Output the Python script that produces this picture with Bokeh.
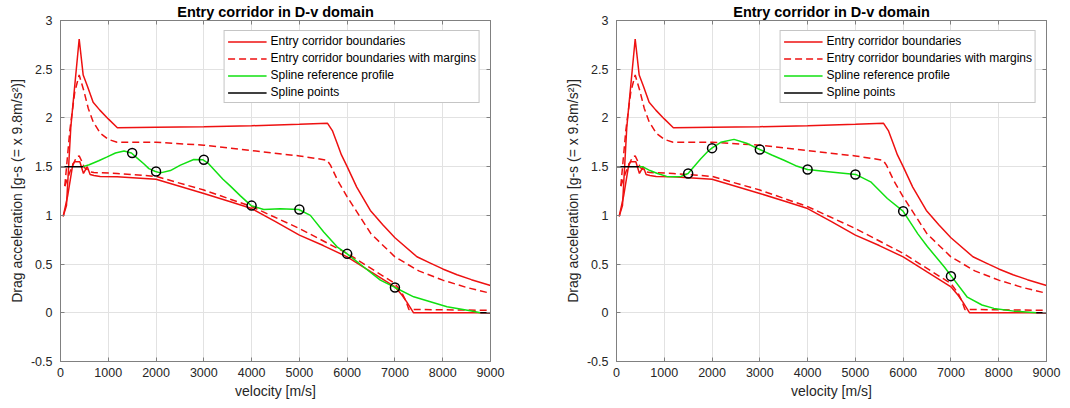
from bokeh.plotting import figure
from bokeh.models import (LinearAxis, FixedTicker, CustomJSTickFormatter, Legend,
                          LegendItem, Range1d)
from bokeh.layouts import row
from bokeh.embed import file_html
from bokeh.resources import INLINE

# ---------------- data ----------------
upper_v = [56, 125, 215, 391, 475, 560, 683, 823, 1000, 1190, 2000, 3000, 4000, 5000,
           5590, 5690, 5790, 5880, 6000, 6200, 6485, 6750, 7000, 7460, 7740, 8000, 8300, 8600, 9000]
upper_D = [0.99, 1.10, 1.90, 2.81, 2.44, 2.33, 2.16, 2.08, 1.99, 1.90, 1.905, 1.91, 1.92, 1.935,
           1.945, 1.87, 1.74, 1.62, 1.50, 1.29, 1.05, 0.90, 0.77, 0.575, 0.51, 0.45, 0.39, 0.34, 0.28]

lower_v = [56, 150, 260, 300, 405, 480, 560, 620, 700, 830, 1185, 2000, 3000, 3556, 4000,
           4500, 5000, 5500, 6000, 6500, 7000, 7150, 7250, 7390, 9000]
lower_D = [0.99, 1.20, 1.53, 1.55, 1.55, 1.43, 1.50, 1.42, 1.41, 1.40, 1.395, 1.37, 1.225, 1.14, 1.07,
           0.935, 0.797, 0.69, 0.574, 0.42, 0.267, 0.18, 0.11, 0.0, 0.0]

upper_m_v = [90, 195, 300, 391, 488, 580, 683, 837, 1000, 1185, 2000, 3000, 4000, 5000,
             5580, 5650, 5800, 6000, 6500, 7000, 7500, 8000, 8500, 9000]
upper_m_D = [1.30, 1.87, 2.27, 2.44, 2.28, 2.10, 1.96, 1.84, 1.78, 1.75, 1.75, 1.72, 1.665, 1.61,
             1.566, 1.515, 1.36, 1.19, 0.81, 0.574, 0.43, 0.335, 0.26, 0.20]

lower_m_v = [90, 200, 335, 391, 450, 500, 560, 628, 700, 1185, 2000, 3000, 4000, 5000,
             6000, 7000, 7150, 7230, 7290, 9000]
lower_m_D = [1.30, 1.45, 1.60, 1.61, 1.55, 1.49, 1.47, 1.446, 1.44, 1.43, 1.40, 1.26, 1.09, 0.865,
             0.61, 0.30, 0.20, 0.12, 0.035, 0.025]

# spline reference profiles
left_spline_v = [475, 600, 800, 977, 1150, 1330, 1485, 1600, 1743, 1850, 1987, 2092, 2300, 2510,
                 2789, 2985, 3100, 3250, 3400, 3556, 3766, 3990, 4254, 4600, 4986, 5230, 5509, 5788,
                 6000, 6346, 6695, 7000, 7392, 7741, 8090, 8577, 8786]
left_spline_D = [1.50, 1.52, 1.56, 1.60, 1.64, 1.66, 1.64, 1.59, 1.53, 1.48, 1.45, 1.436, 1.46, 1.515,
                 1.573, 1.57, 1.53, 1.45, 1.37, 1.30, 1.20, 1.10, 1.06, 1.068, 1.06, 1.00, 0.83, 0.677,
                 0.605, 0.47, 0.335, 0.26, 0.164, 0.113, 0.062, 0.02, 0.0]

right_spline_v = [475, 544, 700, 858, 1050, 1205, 1350, 1498, 1620, 1764, 1900, 1995, 2182, 2460,
                  2740, 2998, 3250, 3506, 3750, 3996, 4483, 5006, 5320, 5669, 5997, 6307, 6506,
                  6862, 7008, 7343, 7650, 7900, 8320, 8786]
right_spline_D = [1.50, 1.50, 1.46, 1.43, 1.40, 1.395, 1.40, 1.43, 1.50, 1.58, 1.65, 1.69, 1.75, 1.78,
                  1.737, 1.676, 1.62, 1.566, 1.51, 1.47, 1.446, 1.42, 1.344, 1.173, 1.043, 0.81, 0.68,
                  0.47, 0.376, 0.16, 0.08, 0.045, 0.017, 0.0]

pts_v = [1500, 2000, 3000, 4000, 5000, 6000, 7000]
left_pts_D = [1.64, 1.45, 1.57, 1.10, 1.06, 0.605, 0.26]
right_pts_D = [1.43, 1.69, 1.676, 1.47, 1.42, 1.043, 0.376]

start_v = [0, 475]
start_D = [1.5, 1.5]
end_v = [8786, 9000]
end_D = [0.0, 0.0]

x_ticks = [0, 1000, 2000, 3000, 4000, 5000, 6000, 7000, 8000, 9000]
y_ticks = [-0.5, 0, 0.5, 1, 1.5, 2, 2.5, 3]

title_text = "Entry corridor in D-v domain"
x_label = "velocity [m/s]"
y_label = "Drag acceleration [g-s (= x 9.8m/s\u00b2)]"
legend_labels = ["Entry corridor boundaries", "Entry corridor boundaries with margins",
                 "Spline reference profile", "Spline points"]

RED = "#ee1111"
GREEN = "#11e011"
AXIS_COL = "#808080"
TEXT_COL = "#262626"
FONT = "Liberation Sans"


def make_fig(spline_v, spline_D, pts_D, border_left, border_right):
    p = figure(frame_width=430, frame_height=341,
               min_border_left=border_left, min_border_right=border_right,
               min_border_top=20, min_border_bottom=47,
               x_range=Range1d(0, 9000), y_range=Range1d(-0.5, 3),
               output_backend="svg", toolbar_location=None,
               title=title_text)
    p.title.align = "center"
    p.title.text_font = FONT
    p.title.text_font_size = "14.5px"
    p.title.text_font_style = "bold"
    p.title.text_color = "#000000"
    p.title.standoff = 1
    p.title.offset = 0

    fmt = CustomJSTickFormatter(code="return tick.toString();")
    for ax, ticks in ((p.xaxis[0], x_ticks), (p.yaxis[0], y_ticks)):
        ax.ticker = FixedTicker(ticks=ticks)
        ax.formatter = fmt
        ax.major_tick_in = 4
        ax.major_tick_out = 0
        ax.minor_tick_in = 0
        ax.minor_tick_out = 0
        ax.axis_line_color = AXIS_COL
        ax.major_tick_line_color = AXIS_COL
        ax.major_label_text_font = FONT
        ax.major_label_text_font_size = "12.5px"
        ax.major_label_text_color = TEXT_COL
        ax.axis_label_text_font = FONT
        ax.axis_label_text_font_size = "14px"
        ax.axis_label_text_font_style = "normal"
        ax.axis_label_text_color = TEXT_COL
    p.xaxis[0].axis_label = x_label
    p.yaxis[0].axis_label = y_label
    p.xaxis[0].major_label_standoff = 6
    p.xaxis[0].axis_label_standoff = 3
    p.yaxis[0].major_label_standoff = 8
    p.yaxis[0].axis_label_standoff = 3

    # box-style ticks on top and right
    for loc, ticks in (("above", x_ticks), ("right", y_ticks)):
        ax = LinearAxis(ticker=FixedTicker(ticks=ticks))
        ax.major_tick_in = 4
        ax.major_tick_out = 0
        ax.minor_tick_in = 0
        ax.minor_tick_out = 0
        ax.axis_line_color = AXIS_COL
        ax.major_tick_line_color = AXIS_COL
        ax.major_label_text_font_size = "0px"
        ax.major_label_standoff = 0
        ax.major_label_text_alpha = 0
        p.add_layout(ax, loc)

    p.grid.grid_line_color = "#e2e2e2"
    p.grid.grid_line_width = 1
    p.xgrid.ticker = FixedTicker(ticks=x_ticks)
    p.ygrid.ticker = FixedTicker(ticks=y_ticks)
    p.outline_line_color = AXIS_COL
    p.background_fill_color = "white"
    p.border_fill_color = "white"

    r1 = p.line(upper_v, upper_D, line_color=RED, line_width=1.5)
    p.line(lower_v, lower_D, line_color=RED, line_width=1.5)
    r2 = p.line(upper_m_v, upper_m_D, line_color=RED, line_width=1.5, line_dash="7 4")
    p.line(lower_m_v, lower_m_D, line_color=RED, line_width=1.5, line_dash="7 4")
    r3 = p.line(spline_v, spline_D, line_color=GREEN, line_width=1.5)
    r4 = p.line(start_v, start_D, line_color="black", line_width=1.5)
    p.line(end_v, end_D, line_color="black", line_width=1.5)
    p.scatter(pts_v, pts_D, marker="circle", size=9, fill_color=None,
              line_color="black", line_width=1.5)

    legend = Legend(items=[LegendItem(label=legend_labels[0], renderers=[r1]),
                           LegendItem(label=legend_labels[1], renderers=[r2]),
                           LegendItem(label=legend_labels[2], renderers=[r3]),
                           LegendItem(label=legend_labels[3], renderers=[r4])],
                    location="top_right")
    legend.margin = 10
    legend.padding = 3
    legend.spacing = 3
    legend.label_height = 13
    legend.glyph_height = 13
    legend.glyph_width = 39
    legend.label_standoff = 4
    legend.label_text_font = FONT
    legend.label_text_font_size = "12px"
    legend.label_text_color = "#000000"
    legend.border_line_color = "#8c8c8c"
    legend.border_line_width = 1
    legend.background_fill_alpha = 1
    p.add_layout(legend)
    return p


p1 = make_fig(left_spline_v, left_spline_D, left_pts_D, 60, 45)
p2 = make_fig(right_spline_v, right_spline_D, right_pts_D, 81, 24)
layout = row(p1, p2)

open("out.html", "w").write(file_html(layout, INLINE))
